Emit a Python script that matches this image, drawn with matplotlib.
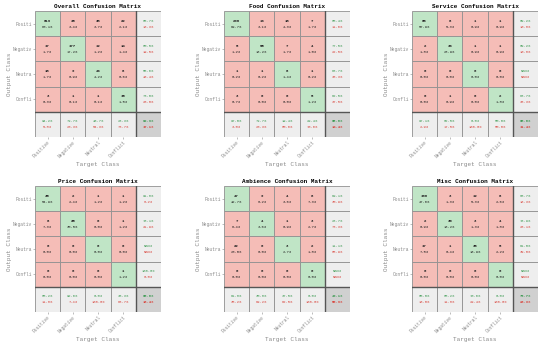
import matplotlib

matplotlib.use("Agg")
import matplotlib.pyplot as plt
import numpy as np
from matplotlib.patches import Rectangle

plt.rcParams["font.family"] = ["Liberation Mono", "DejaVu Sans Mono"]

classes = ["Positive", "Negative", "Neutral", "Conflict"]
row_labels = ["Positi", "Negativ", "Neutra", "Confli"]

overall = [[619, 35, 38, 22],
           [17, 177, 12, 14],
           [18, 9, 43, 6],
           [3, 1, 1, 15]]
food = [[290, 13, 18, 7],
        [5, 55, 7, 4],
        [1, 1, 6, 1],
        [3, 0, 0, 5]]
service = [[66, 6, 1, 1],
           [2, 33, 1, 1],
           [0, 0, 0, 0],
           [0, 1, 0, 2]]
price = [[45, 2, 1, 1],
         [6, 25, 0, 1],
         [0, 0, 0, 0],
         [0, 0, 0, 1]]
ambience = [[47, 9, 4, 8],
            [7, 4, 1, 3],
            [22, 0, 3, 2],
            [0, 0, 0, 0]]
misc = [[108, 3, 12, 6],
        [2, 30, 3, 4],
        [17, 1, 36, 5],
        [0, 0, 0, 0]]

panels = [("Overall", overall), ("Food", food), ("Service", service),
          ("Price", price), ("Ambience", ambience), ("Misc", misc)]

GREEN = "#c0e5c6"
PINK = "#f5bdb7"
LIGHT = "#eeeeee"
CORNER = "#d0d0d0"
TXT_GREEN = "#3c9a52"
TXT_RED = "#d9453d"
LABEL_GRAY = "#8a8a8a"


def pct(a, b):
    return "NaN%" if b == 0 else f"{100 * a / b:.1f}%"


def draw_cm(ax, title, cm):
    cm = np.array(cm)
    n = cm.shape[0]
    total = cm.sum()
    for i in range(n + 1):
        for j in range(n + 1):
            if i < n and j < n:
                color = GREEN if i == j else PINK
            elif i == n and j == n:
                color = CORNER
            else:
                color = LIGHT
            ax.add_patch(Rectangle((j, i), 1, 1, facecolor=color,
                                   edgecolor="#909090", lw=0.6))
            cx, cy = j + 0.5, i + 0.5
            if i < n and j < n:
                ax.text(cx, cy - 0.12, str(cm[i, j]), ha="center", va="center",
                        fontsize=2.9, fontweight="bold", color="#222222")
                ax.text(cx, cy + 0.12, pct(cm[i, j], total), ha="center",
                        va="center", fontsize=2.7, color="#222222")
            else:
                if i < n:
                    good, den = cm[i, i], cm[i, :].sum()
                elif j < n:
                    good, den = cm[j, j], cm[:, j].sum()
                else:
                    good, den = np.trace(cm), total
                top = pct(good, den)
                bot = "NaN%" if den == 0 else pct(den - good, den)
                w = "bold" if (i == n and j == n) else "normal"
                ax.text(cx, cy - 0.12, top, ha="center", va="center",
                        fontsize=2.7, color=TXT_GREEN, fontweight=w)
                ax.text(cx, cy + 0.12, bot, ha="center", va="center",
                        fontsize=2.7, color=TXT_RED, fontweight=w)
    ax.plot([n, n], [0, n + 1], color="#555555", lw=1.0)
    ax.plot([0, n + 1], [n, n], color="#555555", lw=1.0)
    ax.set_xlim(0, n + 1)
    ax.set_ylim(n + 1, 0)
    ax.set_xticks(np.arange(n) + 0.5)
    ax.set_xticklabels(classes, rotation=45, ha="right", rotation_mode="anchor",
                       fontsize=3.3, color=LABEL_GRAY)
    ax.set_yticks(np.arange(n) + 0.5)
    ax.set_yticklabels(row_labels, fontsize=3.3, color=LABEL_GRAY)
    ax.tick_params(length=1.2, width=0.4, pad=0.8, colors=LABEL_GRAY)
    for s in ax.spines.values():
        s.set_visible(False)
    ax.set_title(f"{title} Confusion Matrix", fontsize=4.3, fontweight="bold",
                 pad=2)
    ax.set_xlabel("Target Class", fontsize=4.3, color=LABEL_GRAY, labelpad=2)
    ax.set_ylabel("Output Class", fontsize=4.3, color=LABEL_GRAY, labelpad=0.5)


W, H = 550, 347
fig = plt.figure(figsize=(W / 100, H / 100), dpi=100)
lefts = [35, 224, 412]
tops = [11, 186]
size = 126
for k, (title, cm) in enumerate(panels):
    left = lefts[k % 3]
    top = tops[k // 3]
    ax = fig.add_axes([left / W, 1 - (top + size) / H, size / W, size / H])
    draw_cm(ax, title, cm)

fig.savefig("out.png", dpi=100, facecolor="white")
